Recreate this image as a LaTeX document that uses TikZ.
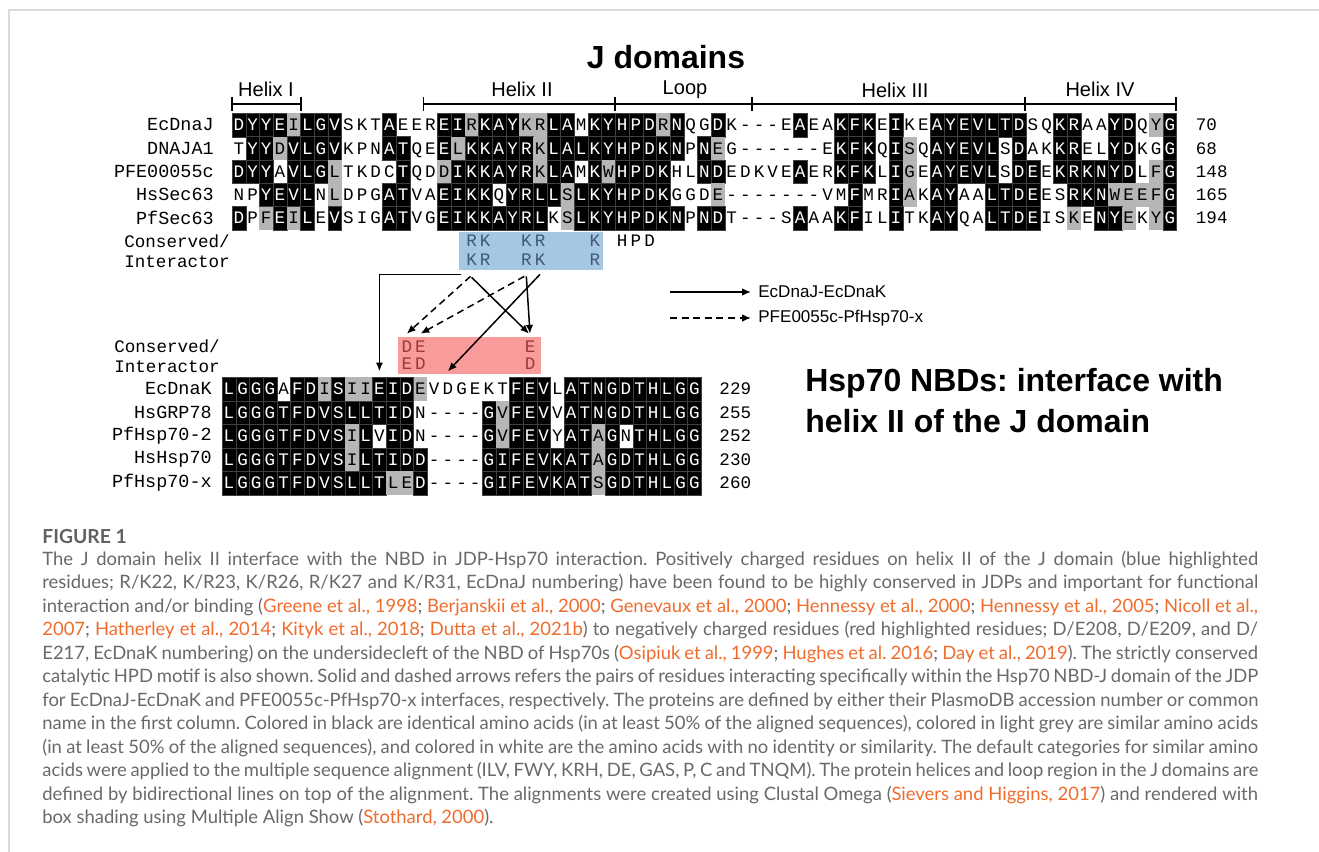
\documentclass[tikz,border=0pt]{standalone}
\usepackage{fontspec}
\setmainfont{Liberation Sans}
\newfontfamily\seqfont{Liberation Mono}
\newfontfamily\capfont{Lato}
\usepackage{xstring}
\usetikzlibrary{arrows.meta,calc,positioning}
\frenchspacing

% colours
\definecolor{simgrey}{RGB}{182,182,182}
\definecolor{posblue}{RGB}{166,199,225}
\definecolor{posink}{RGB}{62,88,122}
\definecolor{negred}{RGB}{247,155,155}
\definecolor{negink}{RGB}{160,55,55}
\definecolor{captext}{RGB}{105,105,105}
\definecolor{capref}{RGB}{240,108,45}
\definecolor{framegrey}{RGB}{218,218,218}

% one alignment row: prefix, row, left x, y, residues, shading (b/g/w)
\newcommand\alnrow[6]{%
  \StrLen{#5}[\alnlen]%
  \foreach \c in {1,...,\alnlen}{%
    \StrChar{#5}{\c}[\aares]%
    \StrChar{#6}{\c}[\aashd]%
    \node[res\aashd] (#1-#2-\c) at ({#3+13.69*(\c-0.5)},#4) {\aares};%
  }%
}
\newcommand\refc[1]{{\color{capref}#1}}

\begin{document}
\begin{tikzpicture}[x=0.02cm,y=-0.02cm,
  res/.style={minimum width=7.79pt,minimum height=13.3pt,inner sep=0pt,outer sep=0pt,
    font=\seqfont\fontsize{10}{10}\selectfont,text height=6.5pt,text depth=0pt},
  resb/.style={res,fill=black,draw=black!75,line width=0.2pt,text=white},
  resg/.style={res,fill=simgrey,text=black},
  resw/.style={res,text=black},
  seqname/.style={font=\seqfont\fontsize{10.5}{10.5}\selectfont,inner sep=0pt},
  seqnum/.style={font=\seqfont\fontsize{10}{10}\selectfont,inner sep=0pt},
  lbl/.style={font=\seqfont\fontsize{10}{10}\selectfont,inner sep=0pt,anchor=west},
  boxtxt/.style={font=\seqfont\fontsize{10}{10}\selectfont,inner sep=0pt,text height=6.5pt,text depth=0pt},
  helix/.style={font=\fontsize{11.4}{12}\selectfont,inner sep=0pt},
  bigtitle/.style={font=\bfseries\fontsize{18.2}{20}\selectfont,inner sep=0pt},
  bracket/.style={line width=1.1pt},
  legtxt/.style={font=\fontsize{9.7}{10}\selectfont,inner sep=0pt,anchor=west},
  jk/.style={line width=0.85pt,-{Latex[length=5pt,width=4.2pt]}},
  pf/.style={jk,dash pattern=on 4pt off 2.6pt},
  capline/.style={font=\capfont\fontsize{10.5}{11}\selectfont,text=captext,inner sep=0pt,anchor=west},
]
\useasboundingbox (0,0) rectangle (1319,852);
\fill[white] (0,0) rectangle (1319,852);
\draw[framegrey,line width=0.6pt] (9,852) -- (9,10) -- (1319,10);

% J domain alignment
\alnrow{j}{1}{232}{125}{DYYEILGVSKTAEEREIRKAYKRLAMKYHPDRNQGDK---EAEAKFKEIKEAYEVLTDSQKRAAYDQYG}
  {bbbbgbbbwwwbwwwbbgbbbggbbwbbbbbgbwwbwwwwwbwwbbbwbwwbbbbbbbwwbbwwbbwgb}
\alnrow{j}{2}{232}{148.3}{TYYDVLGVKPNATQEELKKAYRKLALKYHPDKNPNEG------EKFKQISQAYEVLSDAKKRELYDKGG}
  {wbbgbbbbwwwbbwwbgbbbbbgbbbbbbbbbbwbgwwwwwwwwbbbwbgwbbbbbwbwwbbwwbbwwb}
\alnrow{j}{3}{232}{171.6}{DYYAVLGLTKDCTQDDIKKAYRKLAMKWHPDKHLNDEDKVEAERKFKLIGEAYEVLSDEEKRKNYDLFG}
  {bbbwbbbgwwwwbwwgbbbbbbgbbwbgbbbbwwbbwwwwwbwwbbbwbgwbbbbbwbbwbbbbbbwgb}
\alnrow{j}{4}{232}{194.9}{NPYEVLNLDPGATVAEIKKQYRLLSLKYHPDKGGDE-------VMFMRIAKAYAALTDEESRKNWEEFG}
  {wwbbbbwgwwwbbwwbbbbwbbbbgbbbbbbbwwwgwwwwwwwwwbwwbgwbbwwbbbbwwbbbggggb}
\alnrow{j}{5}{232}{218.2}{DPFEILEVSIGATVGEIKKAYRLKSLKYHPDKNPNDT---SAAAKFILITKAYQALTDEISKENYEKYG}
  {bwgbgbwbwwwbbwwbbbbbbbbwgbbbbbbbbwbbwwwwwbwwbbwwbwwbbwwbbbbwwgwbbgwgb}

% names and numbers
\node[seqname,left=10.24pt of j-1-1] (nj1) {EcDnaJ};
\node[seqname,left=10.24pt of j-2-1] (nj2) {DNAJA1};
\node[seqname,left=10.24pt of j-3-1] (nj3) {PFE00055c};
\node[seqname,left=10.24pt of j-4-1] (nj4) {HsSec63};
\node[seqname,left=10.24pt of j-5-1] (nj5) {PfSec63};
\node[seqnum,right=10.8pt of j-1-69] (mj1) {70};
\node[seqnum,right=10.8pt of j-2-69] (mj2) {68};
\node[seqnum,right=10.8pt of j-3-69] (mj3) {148};
\node[seqnum,right=10.8pt of j-4-69] (mj4) {165};
\node[seqnum,right=10.8pt of j-5-69] (mj5) {194};

% helices and loop
\node[bigtitle] (title) at (666,57) {J domains};
\draw[bracket] (232,104) -- (301,104);
\draw[bracket] (423.5,104) -- (1176,104);
\foreach \x in {232,301,423.5,615,752,1025,1176}
  \draw[bracket] (\x,97) -- (\x,111);
\node[helix] (h1) at (266,89) {Helix I};
\node[helix] (h2) at (522,89) {Helix II};
\node[helix] (lp) at (685,90) {Loop};
\node[helix] (h3) at (895,90) {Helix III};
\node[helix] (h4) at (1100,89) {Helix IV};

% Hsp70 NBD alignment
\alnrow{k}{1}{222}{389}{LGGGAFDISIIEIDEVDGEKTFEVLATNGDTHLGG}
  {bbbbwbbgbggbbbgwwwwwwbbbwbbbbbbbbbb}
\alnrow{k}{2}{222}{412.5}{LGGGTFDVSLLTIDN----GVFEVVATNGDTHLGG}
  {bbbbbbbbbbbbbbwwwwwbgbbbwbbbbbbbbbb}
\alnrow{k}{3}{222}{436}{LGGGTFDVSILVIDN----GVFEVYATAGNTHLGG}
  {bbbbbbbbbgbwbbwwwwwbgbbbwbbgbwbbbbb}
\alnrow{k}{4}{222}{459.5}{LGGGTFDVSILTIDD----GIFEVKATAGDTHLGG}
  {bbbbbbbbbgbbbbbwwwwbbbbbbbbgbbbbbbb}
\alnrow{k}{5}{222}{483}{LGGGTFDVSLLTLED----GIFEVKATSGDTHLGG}
  {bbbbbbbbbbbbggbwwwwbbbbbbbbgbbbbbbb}

\node[seqname,left=5.69pt of k-1-1] (nk1) {EcDnaK};
\node[seqname,left=5.69pt of k-2-1] (nk2) {HsGRP78};
\node[seqname,left=5.69pt of k-3-1] (nk3) {PfHsp70-2};
\node[seqname,left=5.69pt of k-4-1] (nk4) {HsHsp70};
\node[seqname,left=5.69pt of k-5-1] (nk5) {PfHsp70-x};
\node[seqnum,right=10.24pt of k-1-35] (mk1) {229};
\node[seqnum,right=10.24pt of k-2-35] (mk2) {255};
\node[seqnum,right=10.24pt of k-3-35] (mk3) {252};
\node[seqnum,right=10.24pt of k-4-35] (mk4) {230};
\node[seqnum,right=10.24pt of k-5-35] (mk5) {260};

% conserved / interacting residues
\node[lbl] (cons1) at (124,241) {Conserved/};
\node[lbl] (int1) at (124,262) {Interactor};
\node[lbl] (cons2) at (114,346) {Conserved/};
\node[lbl] (int2) at (114,367) {Interactor};

\node[fill=posblue,minimum width=81.94pt,minimum height=21.62pt,inner sep=0pt] (blue) at (531,251) {};
\foreach \c/\a/\b in {18/R/K,19/K/R,22/K/R,23/R/K,27/K/R}{
  \node[boxtxt,text=posink] (bu-\c) at (j-5-\c |- 0,241) {\a};
  \node[boxtxt,text=posink] (bd-\c) at (j-5-\c |- 0,260) {\b};
}
\foreach \c/\a in {29/H,30/P,31/D}
  \node[boxtxt] (hpd-\c) at (j-5-\c |- 0,241) {\a};

\node[fill=negred,minimum width=81.37pt,minimum height=21.05pt,inner sep=0pt] (red) at (469.5,355.5) {};
\foreach \c/\a/\b in {14/D/E,15/E/D,23/E/D}{
  \node[boxtxt,text=negink] (ru-\c) at (k-5-\c |- 0,347) {\a};
  \node[boxtxt,text=negink] (rd-\c) at (k-5-\c |- 0,364) {\b};
}

% interactions
\draw[jk] ($(blue.south west)+(2,4)$) -| ($(k-1-12.north)+(0,-6)$);
\draw[pf] ($(bd-18 |- blue.south)+(-1,6)$) -- ($(ru-14 |- red.north)+(0,-3)$);
\draw[pf] ($(bd-22 |- blue.south)+(-2,6)$) -- ($(ru-15 |- red.north)+(0,-3)$);
\draw[jk] ($(bd-18 |- blue.south)+(0,7)$) -- ($(ru-23 |- red.north)+(-1,-3)$);
\draw[jk] ($(bd-22 |- blue.south)+(0,6)$) -- ($(ru-23 |- red.north)+(0,-3)$);
\draw[jk] ($(bd-23 |- blue.south)+(0,4)$) -- ($(k-1-17.north)+(0,-6)$);

% legend
\node[legtxt] (leg1) at (758,292) {EcDnaJ-EcDnaK};
\node[legtxt] (leg2) at (758,318) {PFE0055c-PfHsp70-x};
\coordinate (leg1s) at (670,292);
\coordinate (leg2s) at (670,318);
\draw[jk] (leg1s) -- ($(leg1.west)+(-7,0)$);
\draw[pf] (leg2s) -- ($(leg2.west)+(-7,0)$);

\node[bigtitle,anchor=west] (nbd1) at (805,383) {Hsp70 NBDs: interface with};
\node[bigtitle,anchor=west] (nbd2) at (805,421) {helix II of the J domain};

% caption
\node[capline,font=\capfont\bfseries\fontsize{11}{12}\selectfont,text=black!62] (fig) at (42,537) {FIGURE 1};
\node[capline] (c1) at (42,560) {\makebox[692pt][s]{The J domain helix II interface with the NBD in JDP-Hsp70 interaction. Positively charged residues on helix II of the J domain (blue highlighted}};
\node[capline] (c2) at (42,583.5) {\makebox[692pt][s]{residues; R/K22, K/R23, K/R26, R/K27 and K/R31, EcDnaJ numbering) have been found to be highly conserved in JDPs and important for functional}};
\node[capline] (c3) at (42,607) {\makebox[692pt][s]{interaction and/or binding (\refc{Greene et al., 1998}; \refc{Berjanskii et al., 2000}; \refc{Genevaux et al., 2000}; \refc{Hennessy et al., 2000}; \refc{Hennessy et al., 2005}; \refc{Nicoll et al.,}}};
\node[capline] (c4) at (42,630.5) {\makebox[692pt][s]{\refc{2007}; \refc{Hatherley et al., 2014}; \refc{Kityk et al., 2018}; \refc{Dutta et al., 2021b}) to negatively charged residues (red highlighted residues; D/E208, D/E209, and D/}};
\node[capline] (c5) at (42,654) {\makebox[692pt][s]{E217, EcDnaK numbering) on the undersidecleft of the NBD of Hsp70s (\refc{Osipiuk et al., 1999}; \refc{Hughes et al. 2016}; \refc{Day et al., 2019}). The strictly conserved}};
\node[capline] (c6) at (42,677.5) {\makebox[692pt][s]{catalytic HPD motif is also shown. Solid and dashed arrows refers the pairs of residues interacting specifically within the Hsp70 NBD-J domain of the JDP}};
\node[capline] (c7) at (42,701) {\makebox[692pt][s]{for EcDnaJ-EcDnaK and PFE0055c-PfHsp70-x interfaces, respectively. The proteins are defined by either their PlasmoDB accession number or common}};
\node[capline] (c8) at (42,724.5) {\makebox[692pt][s]{name in the first column. Colored in black are identical amino acids (in at least 50\% of the aligned sequences), colored in light grey are similar amino acids}};
\node[capline] (c9) at (42,748) {\makebox[692pt][s]{(in at least 50\% of the aligned sequences), and colored in white are the amino acids with no identity or similarity. The default categories for similar amino}};
\node[capline] (c10) at (42,771.5) {\makebox[692pt][s]{acids were applied to the multiple sequence alignment (ILV, FWY, KRH, DE, GAS, P, C and TNQM). The protein helices and loop region in the J domains are}};
\node[capline] (c11) at (42,795) {\makebox[692pt][s]{defined by bidirectional lines on top of the alignment. The alignments were created using Clustal Omega (\refc{Sievers and Higgins, 2017}) and rendered with}};
\node[capline] (c12) at (42,818.5) {box shading using Multiple Align Show (\refc{Stothard, 2000}).};
\end{tikzpicture}
\end{document}
